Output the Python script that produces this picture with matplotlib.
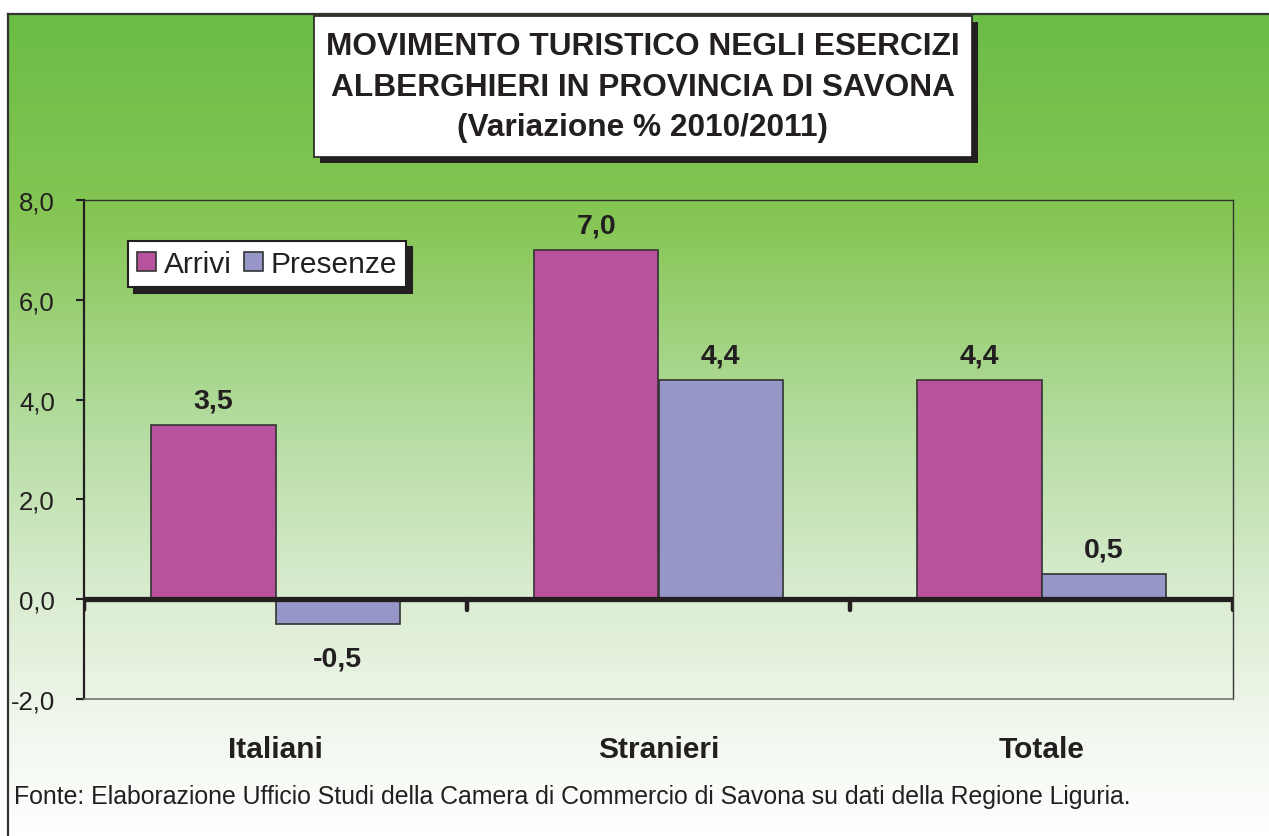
import numpy as np
import matplotlib
matplotlib.use("Agg")
import matplotlib.pyplot as plt
from matplotlib.patches import Rectangle, Patch
from matplotlib.colors import LinearSegmentedColormap

plt.rcParams['font.family'] = ['Liberation Sans', 'DejaVu Sans']

categories = ["Italiani", "Stranieri", "Totale"]
series_names = ["Arrivi", "Presenze"]
arrivi = [3.5, 7.0, 4.4]
presenze = [-0.5, 4.4, 0.5]
y_ticks = [-2.0, 0.0, 2.0, 4.0, 6.0, 8.0]
title_lines = ["MOVIMENTO TURISTICO NEGLI ESERCIZI",
               "ALBERGHIERI IN PROVINCIA DI SAVONA",
               "(Variazione % 2010/2011)"]
source = "Fonte: Elaborazione Ufficio Studi della Camera di Commercio di Savona su dati della Regione Liguria."

col_arrivi = "#B8529C"
col_presenze = "#9696C8"
txt = "#231F20"

W, H = 1269, 837
fig = plt.figure(figsize=(W / 100, H / 100), dpi=100)
fig.patch.set_facecolor("white")

# background gradient panel
bg = fig.add_axes([8 / W, 0, 1 - 8 / W, (H - 15) / H], zorder=0)
cmap = LinearSegmentedColormap.from_list(
    "g", [(0.0, "#6ABD45"), (0.25, "#86C654"), (0.5, "#B4DCA0"),
          (0.72, "#DCEDD3"), (0.88, "#F2F8EF"), (1.0, "#FFFFFF")])
grad = np.linspace(0, 1, 512).reshape(-1, 1)
bg.imshow(grad, aspect="auto", cmap=cmap, extent=[0, 1, 0, 1], origin="upper")
bg.set_xlim(0, 1)
bg.set_ylim(0, 1)
bg.set_xticks([])
bg.set_yticks([])
for s in ["right", "bottom"]:
    bg.spines[s].set_visible(False)
for s in ["left", "top"]:
    bg.spines[s].set_linewidth(1.6)
    bg.spines[s].set_color("#333333")

# main axes
x0, x1, y0, y1 = 84, 1233, 201, 700
ax = fig.add_axes([x0 / W, 1 - y1 / H, (x1 - x0) / W, (y1 - y0) / H], zorder=2)
ax.set_facecolor("none")

x = np.arange(len(categories))
bw = 0.324
b1 = ax.bar(x - bw / 2, arrivi, bw, color=col_arrivi, edgecolor="#333333", linewidth=1.2, zorder=2)
b2 = ax.bar(x + bw / 2, presenze, bw, color=col_presenze, edgecolor="#333333", linewidth=1.2, zorder=2)

for bars, vals in [(b1, arrivi), (b2, presenze)]:
    for r, v in zip(bars, vals):
        lab = f"{v:.1f}".replace(".", ",")
        xc = r.get_x() + r.get_width() / 2
        if v >= 0:
            ax.annotate(lab, (xc, v), xytext=(0, 17.5), textcoords="offset points",
                        ha="center", va="center", fontsize=20.5, fontweight="bold", color=txt)
        else:
            ax.annotate(lab, (xc, v), xytext=(0, -25), textcoords="offset points",
                        ha="center", va="center", fontsize=20.5, fontweight="bold", color=txt)

ax.set_xlim(-0.5, len(categories) - 0.5)
ax.set_ylim(-2, 8)
ax.set_yticks(y_ticks)
ax.set_yticklabels([f"{v:.1f}".replace(".", ",") for v in y_ticks], fontsize=18.5, color=txt)
ax.tick_params(axis="y", length=6, width=1.5, color=txt, pad=15, direction="out")
ax.set_xticks(x)
ax.set_xticklabels(categories, fontsize=21.5, fontweight="bold", color=txt)
ax.tick_params(axis="x", length=0, pad=26)

ax.spines["left"].set_linewidth(1.6)
ax.spines["left"].set_color(txt)
ax.spines["top"].set_linewidth(1.0)
ax.spines["top"].set_color("#333333")
ax.spines["right"].set_linewidth(1.0)
ax.spines["right"].set_color("#333333")
ax.spines["bottom"].set_linewidth(1.2)
ax.spines["bottom"].set_color("#777777")

# zero line with category separators
ax.axhline(0, color=txt, linewidth=3.8, zorder=3, solid_capstyle="butt")
bounds = np.arange(len(categories) + 1) - 0.5
ax.vlines(bounds, -0.22, 0, color=txt, linewidth=3.2, zorder=3, capstyle="round")

# legend
handles = [Patch(facecolor=col_arrivi, edgecolor="#333333", linewidth=1.2),
           Patch(facecolor=col_presenze, edgecolor="#333333", linewidth=1.2)]
leg = ax.legend(handles, series_names, loc="upper left",
                bbox_to_anchor=((128 - x0) / (x1 - x0), (y1 - 242) / (y1 - y0)),
                borderaxespad=0, ncol=2, fontsize=21.5, frameon=True, fancybox=False,
                handlelength=0.65, handleheight=0.65, handletextpad=0.25, columnspacing=0.4,
                borderpad=0.3,
                shadow={"ox": 4.5, "oy": -4.5, "color": "#231F20", "alpha": 1.0})
leg.get_frame().set_edgecolor(txt)
leg.get_frame().set_linewidth(1.5)
leg.get_frame().set_facecolor("white")
for t in leg.get_texts():
    t.set_color(txt)

# title box with shadow
tb_x0, tb_y0, tb_x1, tb_y1 = 314, 17, 972, 158
off = 6
fig.patches.append(Rectangle(((tb_x0 + off) / W, 1 - (tb_y1 + off) / H), (tb_x1 - tb_x0) / W,
                             (tb_y1 - tb_y0) / H, transform=fig.transFigure,
                             facecolor=txt, edgecolor="none", zorder=3))
fig.patches.append(Rectangle((tb_x0 / W, 1 - tb_y1 / H), (tb_x1 - tb_x0) / W,
                             (tb_y1 - tb_y0) / H, transform=fig.transFigure,
                             facecolor="white", edgecolor=txt, linewidth=1.2, zorder=4))
for i, line in enumerate(title_lines):
    fig.text((tb_x0 + tb_x1) / 2 / W, 1 - (47 + 40.5 * i) / H, line, ha="center", va="center",
             fontsize=22.8, fontweight="bold", color=txt, zorder=5)

fig.text(14 / W, 1 - 797 / H, source, ha="left", va="center", fontsize=17.9, color=txt, zorder=5)

fig.savefig("out.png", dpi=100)
